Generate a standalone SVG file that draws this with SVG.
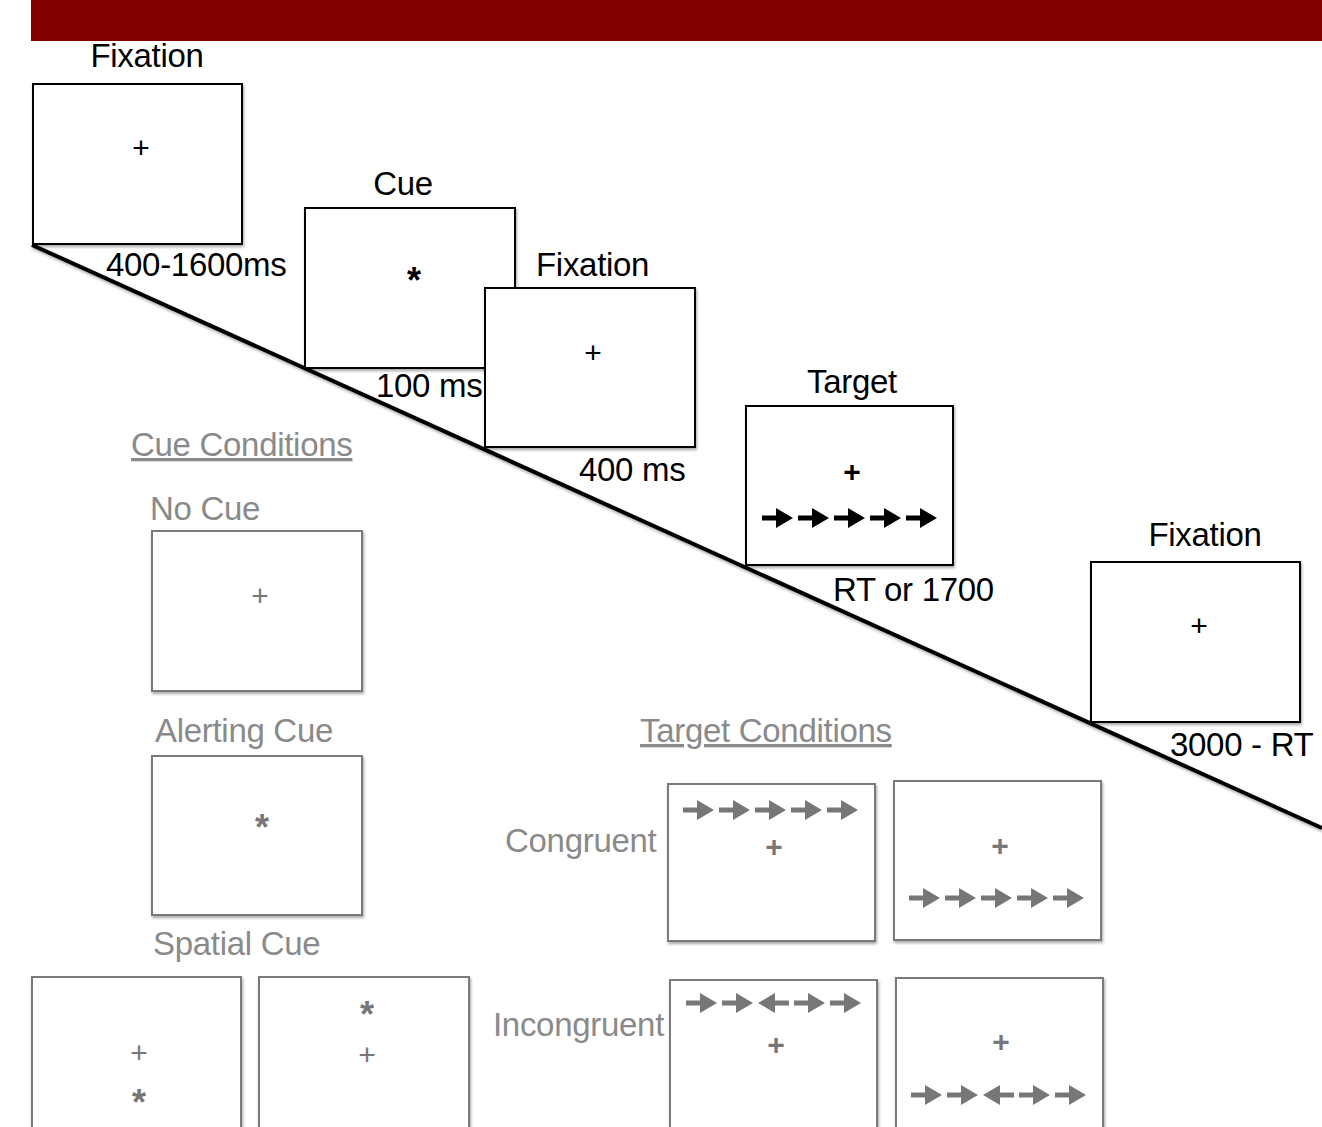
<svg xmlns="http://www.w3.org/2000/svg" xmlns:xlink="http://www.w3.org/1999/xlink" width="1322" height="1127" viewBox="0 0 1322 1127">
<defs>
<filter id="sh" x="-10%" y="-10%" width="130%" height="130%"><feDropShadow dx="1" dy="2" stdDeviation="1.5" flood-color="#000" flood-opacity="0.35"/></filter>
<path id="arr" d="M0,-2.5 H14 V-10 L31,0 L14,10 V2.5 H0 Z"/>
<path id="arrL" d="M31,-2.5 H17 V-10 L0,0 L17,10 V2.5 H31 Z"/>
<style>
text{font-family:"Liberation Sans",Arial,sans-serif}
.lbl{font-size:33px;fill:#000;letter-spacing:-0.3px}
.glbl{font-size:33px;fill:#8a8a8a;letter-spacing:-0.3px}
.mid{text-anchor:middle}
.box{fill:#fff;stroke:#000;stroke-width:2;filter:url(#sh)}
.gbox{fill:#fff;stroke:#7a7a7a;stroke-width:2;filter:url(#sh)}
.sym{font-size:30px;fill:#000;text-anchor:middle}
.gsym{font-size:30px;fill:#777;text-anchor:middle}
.bsym{font-size:30px;font-weight:bold;fill:#000;text-anchor:middle}
.gbsym{font-size:30px;font-weight:bold;fill:#777;text-anchor:middle}
.ast{font-size:36px}
.ba{fill:#000}
.ga{fill:#777}
</style>
</defs>
<rect width="1322" height="1127" fill="#fff"/>
<rect x="31" y="0" width="1291" height="41" fill="#800000"/>

<g id="connectors">
<line x1="32" y1="245" x2="1322" y2="828" stroke="#000" stroke-width="4" filter="url(#sh)"/>
</g>

<g id="fixation1">
<text class="lbl mid" x="147" y="67">Fixation</text>
<rect class="box" x="33" y="84" width="209" height="160"/>
<text class="sym" x="141" y="158">+</text>
<text class="lbl" x="106" y="276">400-1600ms</text>
</g>

<g id="cue">
<text class="lbl mid" x="403" y="195">Cue</text>
<rect class="box" x="305" y="208" width="210" height="160"/>
<text class="bsym ast" x="414" y="293">*</text>
<text class="lbl" x="376" y="397">100 ms</text>
</g>

<g id="fixation2">
<text class="lbl" x="536" y="276">Fixation</text>
<rect class="box" x="485" y="288" width="210" height="159"/>
<text class="sym" x="593" y="363">+</text>
<text class="lbl" x="579" y="481">400 ms</text>
</g>

<g id="target">
<text class="lbl mid" x="852" y="393">Target</text>
<rect class="box" x="746" y="406" width="207" height="159"/>
<text class="bsym" x="852" y="482">+</text>
<use href="#arr" class="ba" x="762" y="518"/>
<use href="#arr" class="ba" x="798" y="518"/>
<use href="#arr" class="ba" x="834" y="518"/>
<use href="#arr" class="ba" x="870" y="518"/>
<use href="#arr" class="ba" x="906" y="518"/>
<text class="lbl" x="833" y="601">RT or 1700</text>
</g>

<g id="fixation3">
<text class="lbl mid" x="1205" y="546">Fixation</text>
<rect class="box" x="1091" y="562" width="209" height="160"/>
<text class="sym" x="1199" y="636">+</text>
<text class="lbl" x="1170" y="756">3000 - RT</text>
</g>

<g id="cue-conditions">
<text class="glbl" x="131" y="456" text-decoration="underline">Cue Conditions</text>
</g>

<g id="no-cue">
<text class="glbl" x="150" y="520">No Cue</text>
<rect class="gbox" x="152" y="531" width="210" height="160"/>
<text class="gsym" x="260" y="606">+</text>
</g>

<g id="alerting-cue">
<text class="glbl" x="155" y="742">Alerting Cue</text>
<rect class="gbox" x="152" y="756" width="210" height="159"/>
<text class="gbsym ast" x="262" y="840">*</text>
</g>

<g id="spatial-cue">
<text class="glbl" x="153" y="955">Spatial Cue</text>
<rect class="gbox" x="32" y="977" width="209" height="160"/>
<text class="gsym" x="139" y="1063">+</text>
<text class="gbsym ast" x="139" y="1115">*</text>
<rect class="gbox" x="259" y="977" width="210" height="160"/>
<text class="gbsym ast" x="367" y="1027">*</text>
<text class="gsym" x="367" y="1065">+</text>
</g>

<g id="target-conditions">
<text class="glbl" x="640" y="742" text-decoration="underline">Target Conditions</text>
</g>

<g id="congruent">
<text class="glbl" x="505" y="852">Congruent</text>
<rect class="gbox" x="668" y="784" width="207" height="157"/>
<use href="#arr" class="ga" x="683" y="810"/>
<use href="#arr" class="ga" x="719" y="810"/>
<use href="#arr" class="ga" x="755" y="810"/>
<use href="#arr" class="ga" x="791" y="810"/>
<use href="#arr" class="ga" x="827" y="810"/>
<text class="gbsym" x="774" y="857">+</text>
<rect class="gbox" x="894" y="781" width="207" height="159"/>
<text class="gbsym" x="1000" y="856">+</text>
<use href="#arr" class="ga" x="909" y="898"/>
<use href="#arr" class="ga" x="945" y="898"/>
<use href="#arr" class="ga" x="981" y="898"/>
<use href="#arr" class="ga" x="1017" y="898"/>
<use href="#arr" class="ga" x="1053" y="898"/>
</g>

<g id="incongruent">
<text class="glbl" x="493" y="1036">Incongruent</text>
<rect class="gbox" x="670" y="980" width="207" height="160"/>
<use href="#arr" class="ga" x="686" y="1003"/>
<use href="#arr" class="ga" x="722" y="1003"/>
<use href="#arrL" class="ga" x="758" y="1003"/>
<use href="#arr" class="ga" x="794" y="1003"/>
<use href="#arr" class="ga" x="830" y="1003"/>
<text class="gbsym" x="776" y="1055">+</text>
<rect class="gbox" x="896" y="978" width="207" height="160"/>
<text class="gbsym" x="1001" y="1052">+</text>
<use href="#arr" class="ga" x="911" y="1095"/>
<use href="#arr" class="ga" x="947" y="1095"/>
<use href="#arrL" class="ga" x="983" y="1095"/>
<use href="#arr" class="ga" x="1019" y="1095"/>
<use href="#arr" class="ga" x="1055" y="1095"/>
</g>
</svg>
